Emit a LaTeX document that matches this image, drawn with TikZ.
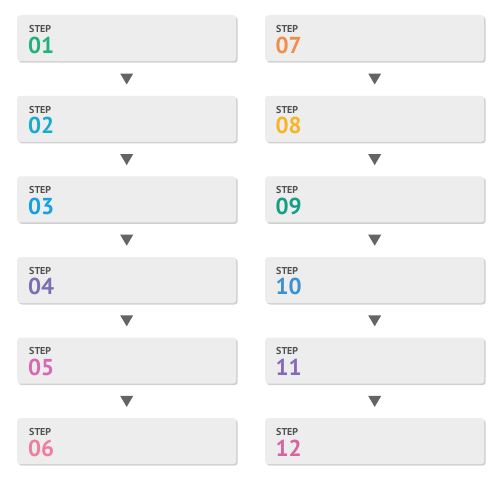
\documentclass[tikz,border=0pt]{standalone}
\usepackage{fontspec}
\setmainfont{PT Sans}
\usetikzlibrary{shadows,calc}
\definecolor{boxfill}{RGB}{237,237,237}
\definecolor{steptxt}{RGB}{80,80,80}
\definecolor{arrowc}{RGB}{100,100,100}
\definecolor{cA}{RGB}{32,178,122}
\definecolor{cB}{RGB}{26,170,205}
\definecolor{cC}{RGB}{20,160,225}
\definecolor{cD}{RGB}{125,110,180}
\definecolor{cE}{RGB}{215,105,180}
\definecolor{cF}{RGB}{240,125,160}
\definecolor{cG}{RGB}{242,140,75}
\definecolor{cH}{RGB}{247,180,35}
\definecolor{cI}{RGB}{20,158,130}
\definecolor{cJ}{RGB}{60,145,210}
\definecolor{cK}{RGB}{135,105,185}
\definecolor{cL}{RGB}{215,100,160}
\tikzset{
  stepbox/.style={draw=none, fill=boxfill, rounded corners=3pt, minimum width=219pt, minimum height=46pt, anchor=north west, inner sep=0pt,
    drop shadow={shadow xshift=1.5pt, shadow yshift=-1.5pt, opacity=0.3, fill=black!60}},
  steplabel/.style={anchor=base west, text=steptxt, font=\bfseries\fontsize{10}{11}\selectfont, inner sep=0pt},
  stepnum/.style={anchor=base west, font=\bfseries\fontsize{23}{24}\selectfont, inner sep=0pt},
  downtri/.style={fill=arrowc}
}
\begin{document}
\begin{tikzpicture}[x=1pt,y=-1pt]
\useasboundingbox[fill=white] (0,0) rectangle (500,479);
\foreach \i/\num/\col in {0/01/cA,1/02/cB,2/03/cC,3/04/cD,4/05/cE,5/06/cF}{
  \node[stepbox] (L\i) at (17,{15+80.6*\i}) {};
  \node[steplabel] (Ls\i) at (29,{32.5+80.6*\i}) {STEP};
  \node[stepnum,text=\col] (Ln\i) at (28,{53+80.6*\i}) {\num};
}
\foreach \i/\num/\col in {0/07/cG,1/08/cH,2/09/cI,3/10/cJ,4/11/cK,5/12/cL}{
  \node[stepbox] (R\i) at (265,{15+80.6*\i}) {};
  \node[steplabel] (Rs\i) at (276,{32.5+80.6*\i}) {STEP};
  \node[stepnum,text=\col] (Rn\i) at (275.5,{53+80.6*\i}) {\num};
}
\foreach \s in {L,R}{
  \foreach \i [evaluate=\i as \j using int(\i+1)] in {0,...,4}{
    \coordinate (\s m\i) at ($(\s\i.south)!0.5!(\s\j.north)$);
    \fill[downtri] ($(\s m\i)+(-6.5,-5)$) -- ($(\s m\i)+(6.5,-5)$) -- ($(\s m\i)+(0,6)$) -- cycle;
  }
}
\end{tikzpicture}
\end{document}
